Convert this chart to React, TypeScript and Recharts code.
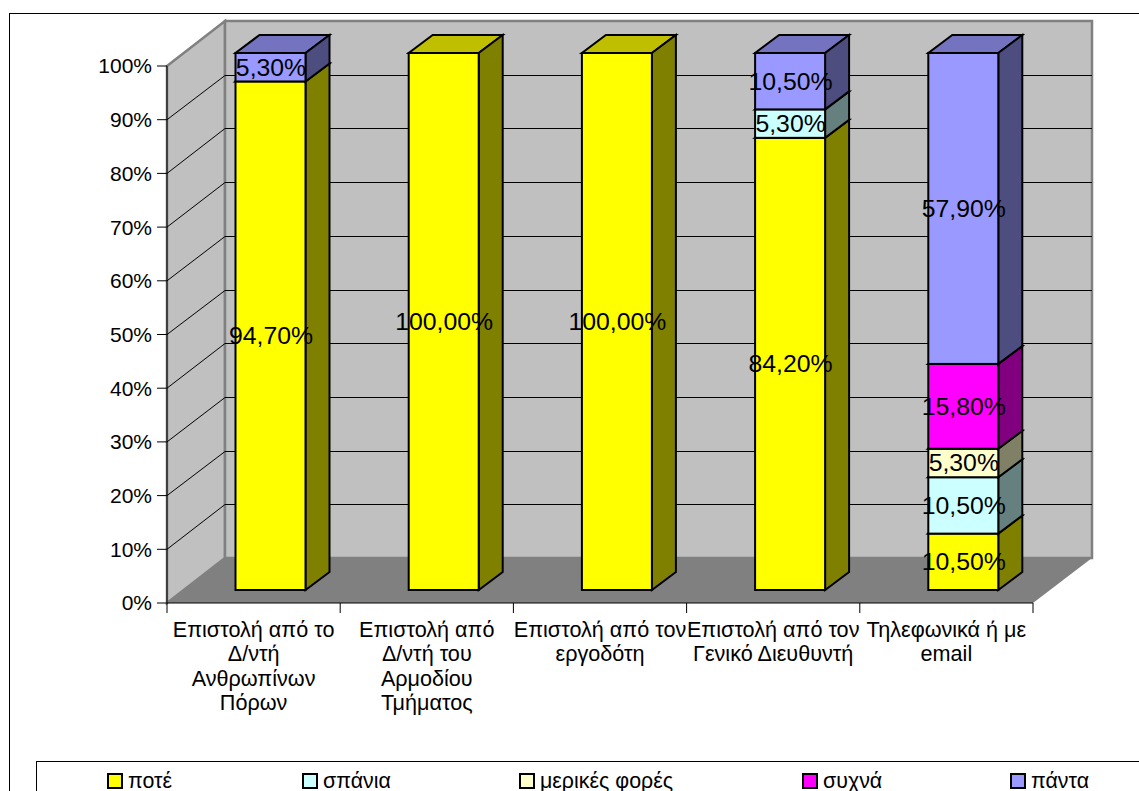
import React from "react";
import {
  BarChart,
  Bar,
  XAxis,
  YAxis,
  ReferenceArea,
  LabelList,
  Legend,
} from "recharts";

// Survey answers per contact channel, percent of respondents
const categories = [
  "Επιστολή από το Δ/ντή Ανθρωπίνων Πόρων",
  "Επιστολή από Δ/ντή του Αρμοδίου Τμήματος",
  "Επιστολή από τον εργοδότη",
  "Επιστολή από τον Γενικό Διευθυντή",
  "Τηλεφωνικά ή με email",
];
const categoryLines = [
  ["Επιστολή από το", "Δ/ντή", "Ανθρωπίνων", "Πόρων"],
  ["Επιστολή από", "Δ/ντή του", "Αρμοδίου", "Τμήματος"],
  ["Επιστολή από τον", "εργοδότη"],
  ["Επιστολή από τον", "Γενικό Διευθυντή"],
  ["Τηλεφωνικά ή με", "email"],
];
const never = [94.7, 100, 100, 84.2, 10.5];
const rarely = [0, 0, 0, 5.3, 10.5];
const sometimes = [0, 0, 0, 0, 5.3];
const often = [0, 0, 0, 0, 15.8];
const always = [5.3, 0, 0, 10.5, 57.9];
const percentTicks = [0, 10, 20, 30, 40, 50, 60, 70, 80, 90, 100];

const rows = categories.map((name, i) => ({
  name,
  never: never[i],
  rarely: rarely[i],
  sometimes: sometimes[i],
  often: often[i],
  always: always[i],
}));

const W = 1139;
const H = 791;
const PLOT = { left: 167, right: 1033, top: 66, bottom: 603 };
const BAND = (PLOT.right - PLOT.left) / categories.length;
// Oblique projection: full chart depth, bar depth, and where the bars sit inside it
const WALL = { dx: 58, dy: -45, extraWidth: 1 };
const BAR_DEPTH = { dx: 24, dy: -18 };
const BAR_SHIFT = { dx: 16.5, dy: -13 };
const FONT = "'Liberation Sans', Arial, sans-serif";
const AXIS_SIZE = 21;
const CATEGORY_SIZE = 21.6;
const LEGEND_SIZE = 21.4;
const LABEL_SIZE = 24.8;

const shade = (hex: string, k: number) => {
  const n = parseInt(hex.slice(1), 16);
  const c = [(n >> 16) & 255, (n >> 8) & 255, n & 255].map((v) => Math.round(v * k));
  return `rgb(${c[0]},${c[1]},${c[2]})`;
};

const Box3D = (props: any) => {
  const { x, y, width, height, fill } = props;
  if (!height || height <= 0) return null;
  const l = x + BAR_SHIFT.dx;
  const t = y + BAR_SHIFT.dy;
  const r = l + width;
  const b = t + height;
  const { dx, dy } = BAR_DEPTH;
  const edge = { stroke: "#000", strokeWidth: 2, strokeLinejoin: "miter" as const };
  return (
    <g>
      <polygon
        points={`${l},${t} ${r},${t} ${r + dx},${t + dy} ${l + dx},${t + dy}`}
        fill={shade(fill, 0.75)}
        {...edge}
      />
      <polygon
        points={`${r},${t} ${r + dx},${t + dy} ${r + dx},${b + dy} ${r},${b}`}
        fill={shade(fill, 0.5)}
        {...edge}
      />
      <rect x={l} y={t} width={width} height={height} fill={fill} {...edge} />
    </g>
  );
};

const ValueLabel = (props: any) => {
  const { x, y, width, height, value } = props;
  if (!value) return null;
  return (
    <text
      x={x + BAR_SHIFT.dx + width / 2 + 0.5}
      y={y + BAR_SHIFT.dy + height / 2}
      textAnchor="middle"
      dominantBaseline="central"
      fontFamily={FONT}
      fontSize={LABEL_SIZE}
      fill="#000"
    >
      {Number(value).toFixed(2).replace(".", ",") + "%"}
    </text>
  );
};

// Side wall, back wall, floor of the chart box and the gridlines folded across the walls
const Walls = (props: any) => {
  const { x, y, width, height } = props;
  const { dx, dy, extraWidth } = WALL;
  const b = y + height;
  const backRight = x + width + dx + extraWidth;
  const rim = { stroke: "#808080", strokeWidth: 2.5 };
  const gridTicks = percentTicks.filter((t) => t > 0 && t < 100);
  return (
    <g>
      <polygon
        points={`${x},${y} ${x + dx},${y + dy} ${x + dx},${b + dy} ${x},${b}`}
        fill="#c0c0c0"
        {...rim}
      />
      <rect
        x={x + dx}
        y={y + dy}
        width={width + extraWidth}
        height={height}
        fill="#c0c0c0"
        {...rim}
      />
      <polygon
        points={`${x},${b} ${x + dx},${b + dy} ${backRight},${b + dy} ${x + width},${b}`}
        fill="#808080"
      />
      {gridTicks.map((t) => {
        // snap the back-wall run to the pixel grid so it stays a crisp 1px line
        const gy = b - (height * t) / 100;
        const backY = Math.round(gy + dy) + 0.5;
        return (
          <path
            key={t}
            d={`M${x},${gy} L${x + dx},${backY} L${backRight},${backY}`}
            fill="none"
            stroke="#000"
            strokeWidth={1}
          />
        );
      })}
    </g>
  );
};

const CategoryTick = (props: any) => {
  const { x, y, index } = props;
  const left = x - BAND / 2;
  const right = x + BAND / 2;
  return (
    <g>
      <line x1={left} y1={y} x2={left} y2={y + 10} stroke="#000" />
      {index === categories.length - 1 && (
        <line x1={right} y1={y} x2={right} y2={y + 10} stroke="#000" />
      )}
      <text x={x} textAnchor="middle" fontFamily={FONT} fontSize={CATEGORY_SIZE} fill="#000">
        {categoryLines[index].map((line, i) => (
          <tspan key={i} x={x} y={y + 34 + i * 24.3}>
            {line}
          </tspan>
        ))}
      </text>
    </g>
  );
};

const legendSwatchX = [107, 302, 519, 802, 1010];

const LegendRow = (props: any) => (
  <div style={{ position: "relative", width: "100%", height: "100%" }}>
    {(props.payload || []).map((item: any, i: number) => (
      <div
        key={item.value}
        style={{
          position: "absolute",
          left: legendSwatchX[i] - 37,
          top: 7,
          height: 24,
          lineHeight: "24px",
          display: "flex",
          alignItems: "center",
          fontFamily: FONT,
          fontSize: LEGEND_SIZE,
          color: "#000",
          whiteSpace: "nowrap",
        }}
      >
        <span
          style={{
            width: 12,
            height: 12,
            border: "2px solid #000",
            background: item.color,
            marginRight: 5,
            display: "inline-block",
          }}
        />
        {item.value}
      </div>
    ))}
  </div>
);

const series = [
  { key: "never", name: "ποτέ", fill: "#ffff00" },
  { key: "rarely", name: "σπάνια", fill: "#ccffff" },
  { key: "sometimes", name: "μερικές φορές", fill: "#ffffcc" },
  { key: "often", name: "συχνά", fill: "#ff00ff" },
  { key: "always", name: "πάντα", fill: "#9999ff" },
];

export default function App() {
  return (
    <div
      style={{
        position: "absolute",
        left: 0,
        top: 0,
        width: W,
        height: H,
        overflow: "hidden",
        background: "#fff",
      }}
    >
      <div
        style={{
          position: "absolute",
          left: 9,
          top: 13,
          width: W + 50,
          height: H + 50,
          border: "1px solid #000",
        }}
      />
      <BarChart
        width={W}
        height={H}
        data={rows}
        barSize={70}
        margin={{
          left: 0,
          top: PLOT.top,
          right: W - PLOT.right,
          bottom: H - PLOT.bottom - 100,
        }}
        style={{ position: "absolute", left: 0, top: 0 }}
      >
        <ReferenceArea
          x1={categories[0]}
          x2={categories[categories.length - 1]}
          y1={0}
          y2={100}
          ifOverflow="visible"
          shape={(p: any) => (
            <Walls x={PLOT.left} y={p.y} width={PLOT.right - PLOT.left} height={p.height} />
          )}
        />
        <XAxis
          dataKey="name"
          interval={0}
          height={100}
          tickSize={0}
          tickMargin={0}
          tick={CategoryTick}
          tickLine={false}
          axisLine={{ stroke: "#000", strokeWidth: 1 }}
        />
        <YAxis
          width={PLOT.left}
          domain={[0, 100]}
          ticks={percentTicks}
          interval={0}
          tickFormatter={(v: number) => `${v}%`}
          tickSize={10}
          tickMargin={5}
          tick={{ fontSize: AXIS_SIZE, fill: "#000", fontFamily: FONT }}
          tickLine={{ stroke: "#000" }}
          axisLine={{ stroke: "#000", strokeWidth: 1 }}
        />
        {series.map((s) => (
          <Bar
            key={s.key}
            dataKey={s.key}
            name={s.name}
            stackId="answers"
            fill={s.fill}
            isAnimationActive={false}
            shape={Box3D}
          >
            <LabelList dataKey={s.key} content={ValueLabel} />
          </Bar>
        ))}
        <Legend
          layout="horizontal"
          verticalAlign="middle"
          itemSorter={null as any}
          content={LegendRow}
          wrapperStyle={{
            position: "absolute",
            left: 36,
            top: 761,
            width: W,
            height: 60,
            border: "1px solid #000",
            boxSizing: "border-box",
            background: "#fff",
          }}
        />
      </BarChart>
    </div>
  );
}
